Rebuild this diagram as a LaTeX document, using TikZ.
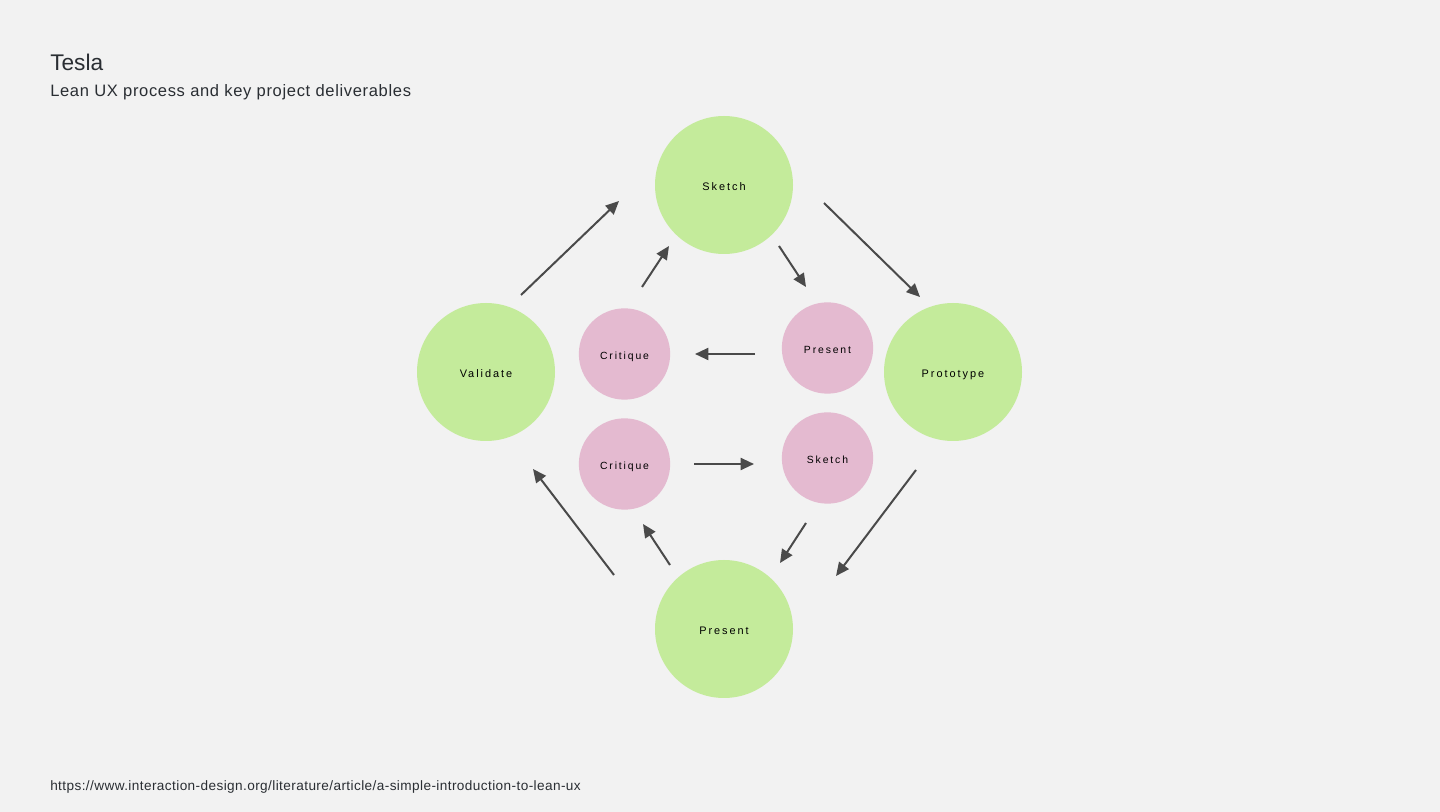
\documentclass[tikz,border=0pt]{standalone}
\usepackage{fontspec}
\setmainfont{Liberation Sans}
\newfontfamily\spaced[LetterSpace=18]{Liberation Sans}
\newfontfamily\wide[LetterSpace=4]{Liberation Sans}
\newfontfamily\link[LetterSpace=3]{Liberation Sans}
\usetikzlibrary{arrows.meta}
\definecolor{bgcol}{RGB}{242,242,242}
\definecolor{leaf}{RGB}{196,235,155}
\definecolor{rose}{RGB}{228,186,208}
\definecolor{ink}{RGB}{74,74,74}
\definecolor{head}{RGB}{42,46,51}
\begin{document}
\begin{tikzpicture}[x=0.75pt,y=-0.75pt]
  \tikzstyle{bigstage}=[circle,fill=leaf,minimum size=103.5pt,inner sep=0pt,text height=8pt,text depth=0pt,font=\spaced\fontsize{8.2}{10}\selectfont]
  \tikzstyle{smallstage}=[circle,fill=rose,minimum size=68.5pt,inner sep=0pt,text height=8pt,text depth=0pt,font=\spaced\fontsize{7.8}{10}\selectfont]
  \tikzstyle{flow} = [draw=ink,line width=1.5pt,-{Triangle[length=10pt,width=9pt]}]
  \tikzstyle{caption} = [anchor=base west,inner sep=0pt,text=head]

    \fill[bgcol] (0,0) rectangle (1440,812);
    \useasboundingbox (0,0) rectangle (1440,812);

    \node[caption,font=\fontsize{17}{20}\selectfont] (title) at (50,71) {Tesla};
    \node[caption,font=\wide\fontsize{12.4}{14}\selectfont] (subtitle) at (50,97) {Lean UX process and key project deliverables};
    \node[caption,font=\link\fontsize{10.2}{12}\selectfont] (source) at (50,791) {https://www.interaction-design.org/literature/article/a-simple-introduction-to-lean-ux};

    \node[bigstage] (sketch) at (724,185) {Sketch};
    \node[bigstage] (validate) at (486,372) {Validate};
    \node[bigstage] (prototype) at (953,372) {Prototype};
    \node[bigstage] (present) at (724,629) {Present};

    \node[smallstage] (critiqueA) at (624.5,354) {Critique};
    \node[smallstage] (presentB) at (827.5,348) {Present};
    \node[smallstage] (critiqueB) at (624.5,464) {Critique};
    \node[smallstage] (sketchB) at (827.5,458) {Sketch};

    % outer loop
    \coordinate (v1) at (521,295);  \coordinate (s1) at (619,201);
    \coordinate (s2) at (824,203);  \coordinate (p1) at (920,297);
    \coordinate (p2) at (916,470);  \coordinate (r1) at (836,576);
    \coordinate (r2) at (614,575);  \coordinate (v2) at (533,469);
    \path[flow] (v1) -- (s1);
    \path[flow] (s2) -- (p1);
    \path[flow] (p2) -- (r1);
    \path[flow] (r2) -- (v2);

    % inner loop
    \coordinate (c1) at (642,287);  \coordinate (s3) at (669,246);
    \coordinate (s4) at (779,246);  \coordinate (b1) at (806,287);
    \coordinate (b2) at (755,354);  \coordinate (c2) at (695,354);
    \coordinate (c3) at (694,464);  \coordinate (k1) at (754,464);
    \coordinate (k2) at (806,523);  \coordinate (r3) at (780,563);
    \coordinate (r4) at (670,565);  \coordinate (c4) at (643,524);
    \path[flow] (c1) -- (s3);
    \path[flow] (s4) -- (b1);
    \path[flow] (b2) -- (c2);
    \path[flow] (c3) -- (k1);
    \path[flow] (k2) -- (r3);
    \path[flow] (r4) -- (c4);
\end{tikzpicture}
\end{document}
